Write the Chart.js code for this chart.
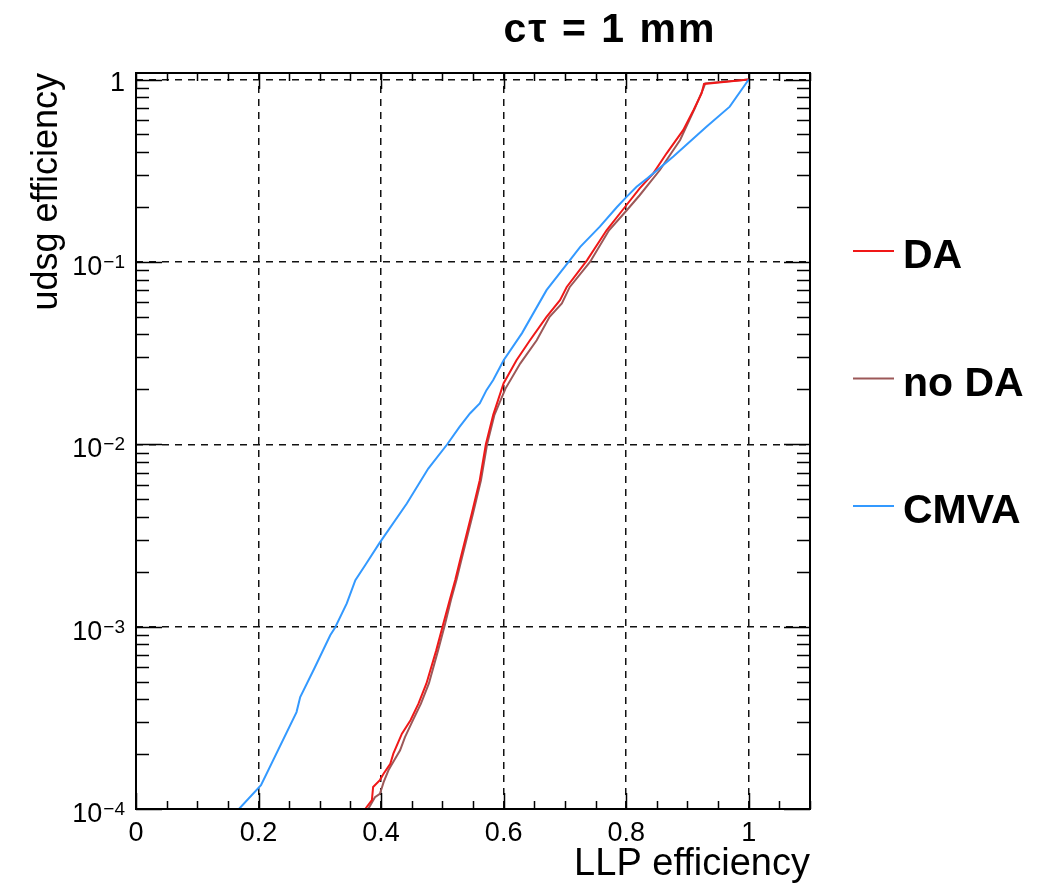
<!DOCTYPE html>
<html>
<head>
<meta charset="utf-8">
<script src="https://cdn.jsdelivr.net/npm/chart.js@4.4.1/dist/chart.umd.min.js"></script>
<style>
  html, body { margin: 0; padding: 0; background: #fff; }
  #wrap { width: 1054px; height: 889px; }
</style>
</head>
<body>
<div id="wrap"><canvas id="c" width="1054" height="889"></canvas></div>
<script>
// ROC curves for c tau = 1 mm: udsg mistag vs LLP efficiency

const xTicks = [0, 0.2, 0.4, 0.6, 0.8, 1];
const yTicks = [1, 1e-1, 1e-2, 1e-3, 1e-4];
const yTickExp = [0, -1, -2, -3, -4];

const seriesNames = ['DA', 'no DA', 'CMVA'];
const seriesColors = ['rgb(240,24,24)', 'rgb(156,88,88)', 'rgb(51,153,255)'];

const daX = [0.374, 0.385, 0.387, 0.398, 0.404, 0.415, 0.420, 0.434, 0.448, 0.461, 0.474, 0.490, 0.501, 0.512, 0.521, 0.529, 0.548, 0.561, 0.571, 0.583, 0.600, 0.621, 0.643, 0.670, 0.692, 0.703, 0.736, 0.768, 0.798, 0.822, 0.844, 0.866, 0.893, 0.910, 0.923, 0.927, 1.0];
const daY = [1.0e-4, 1.12e-4, 1.32e-4, 1.44e-4, 1.56e-4, 1.77e-4, 2.01e-4, 2.59e-4, 3.07e-4, 3.78e-4, 4.88e-4, 7.41e-4, 1.02e-3, 1.40e-3, 1.80e-3, 2.32e-3, 4.17e-3, 6.35e-3, 1.0e-2, 1.45e-2, 2.16e-2, 2.89e-2, 3.72e-2, 5.0e-2, 6.17e-2, 7.29e-2, 0.102, 0.149, 0.200, 0.253, 0.305, 0.394, 0.528, 0.681, 0.839, 0.945, 1.0];

const noDaX = [0.379, 0.390, 0.398, 0.401, 0.404, 0.412, 0.415, 0.431, 0.439, 0.452, 0.465, 0.478, 0.493, 0.504, 0.514, 0.523, 0.531, 0.550, 0.563, 0.573, 0.585, 0.603, 0.627, 0.654, 0.675, 0.695, 0.708, 0.741, 0.772, 0.801, 0.822, 0.855, 0.888, 0.912, 0.926, 0.929, 1.0];
const noDaY = [1.0e-4, 1.16e-4, 1.21e-4, 1.30e-4, 1.40e-4, 1.63e-4, 1.70e-4, 2.10e-4, 2.48e-4, 3.07e-4, 3.78e-4, 4.88e-4, 7.41e-4, 1.02e-3, 1.40e-3, 1.80e-3, 2.32e-3, 4.17e-3, 6.35e-3, 1.0e-2, 1.45e-2, 2.02e-2, 2.77e-2, 3.72e-2, 5.0e-2, 5.92e-2, 7.29e-2, 0.100, 0.149, 0.192, 0.232, 0.319, 0.466, 0.695, 0.895, 0.953, 1.0];

const cmvaX = [0.168, 0.204, 0.262, 0.268, 0.291, 0.317, 0.325, 0.344, 0.358, 0.374, 0.397, 0.442, 0.477, 0.508, 0.528, 0.545, 0.561, 0.572, 0.583, 0.600, 0.630, 0.670, 0.706, 0.725, 0.757, 0.785, 0.801, 0.817, 0.835, 0.877, 0.931, 0.969, 1.0];
const cmvaY = [1.0e-4, 1.35e-4, 3.40e-4, 4.11e-4, 5.89e-4, 8.97e-4, 9.9e-4, 1.34e-3, 1.80e-3, 2.17e-3, 2.86e-3, 4.73e-3, 7.36e-3, 1.0e-2, 1.245e-2, 1.476e-2, 1.675e-2, 1.98e-2, 2.25e-2, 2.89e-2, 4.07e-2, 7.0e-2, 0.100, 0.121, 0.156, 0.200, 0.228, 0.258, 0.288, 0.378, 0.551, 0.710, 1.0];

const FONT = '"Liberation Sans", Arial, Helvetica, sans-serif';
Chart.defaults.font.family = FONT;
Chart.defaults.color = '#000';

function pts(xs, ys) {
  return xs.map((x, i) => ({ x, y: ys[i] }));
}

// frame, inward ticks (ROOT style), y labels, title and legend
const rootDecor = {
  id: 'rootDecor',
  afterDatasetsDraw(chart) {
    const { ctx, chartArea: a, scales: { x, y } } = chart;
    ctx.save();
    ctx.strokeStyle = '#000';
    ctx.lineWidth = 1.5;
    ctx.beginPath();

    // x ticks, bottom and top
    for (let i = 0; i <= 22; i++) {
      const v = i * 0.05;
      const px = Math.round(x.getPixelForValue(v)) + 0.5;
      const len = i % 4 === 0 ? 16 : 8;
      ctx.moveTo(px, a.bottom); ctx.lineTo(px, a.bottom - len);
      ctx.moveTo(px, a.top); ctx.lineTo(px, a.top + len);
    }
    // y ticks, left and right
    for (let k = -4; k <= 0; k++) {
      for (let m = 1; m <= 9; m++) {
        const v = m * Math.pow(10, k);
        if (v > y.max) break;
        const py = Math.round(y.getPixelForValue(v)) + 0.5;
        const len = m === 1 ? 26 : 13;
        ctx.moveTo(a.left, py); ctx.lineTo(a.left + len, py);
        ctx.moveTo(a.right, py); ctx.lineTo(a.right - len, py);
      }
    }
    ctx.stroke();

    ctx.lineWidth = 2;
    ctx.strokeRect(a.left, a.top, a.right - a.left, a.bottom - a.top);

    // y tick labels 10^n
    ctx.fillStyle = '#000';
    ctx.textAlign = 'right';
    ctx.textBaseline = 'alphabetic';
    const lx = a.left - 11;
    yTicks.forEach((v, i) => {
      const py = y.getPixelForValue(v);
      const e = yTickExp[i];
      if (e === 0) {
        ctx.font = '27px ' + FONT;
        ctx.fillText('1', lx, py + 11);
        return;
      }
      const sup = '\u2212' + Math.abs(e);
      ctx.font = '19px ' + FONT;
      const w = ctx.measureText(sup).width;
      ctx.fillText(sup, lx, py + 6);
      ctx.font = '27px ' + FONT;
      ctx.fillText('10', lx - w - 1, py + 13);
    });

    // title
    ctx.textAlign = 'center';
    ctx.font = 'bold 41px ' + FONT;
    ctx.letterSpacing = '2px';
    ctx.fillText('c\u03C4 = 1 mm', 610, 42);
    ctx.letterSpacing = '0px';

    // legend
    ctx.textAlign = 'left';
    ctx.font = 'bold 41px ' + FONT;
    chart.data.datasets.forEach((ds, i) => {
      const ly = 251 + i * 127.5;
      ctx.strokeStyle = ds.borderColor;
      ctx.lineWidth = 2;
      ctx.beginPath();
      ctx.moveTo(853, ly); ctx.lineTo(894, ly);
      ctx.stroke();
      ctx.fillText(ds.label, 903, ly + 17);
    });
    ctx.restore();
  }
};

new Chart(document.getElementById('c'), {
  type: 'line',
  data: {
    datasets: [
      { label: seriesNames[0], data: pts(daX, daY), borderColor: seriesColors[0], order: 1 },
      { label: seriesNames[1], data: pts(noDaX, noDaY), borderColor: seriesColors[1], order: 2 },
      { label: seriesNames[2], data: pts(cmvaX, cmvaY), borderColor: seriesColors[2], order: 0 },
    ].map(d => Object.assign(d, { borderWidth: 2, pointRadius: 0, tension: 0, fill: false })),
  },
  plugins: [rootDecor],
  options: {
    responsive: false,
    animation: false,
    layout: { padding: { left: 0, top: 73, right: 244, bottom: 0 } },
    scales: {
      x: {
        type: 'linear',
        min: 0,
        max: 1.1,
        afterBuildTicks: axis => { axis.ticks = xTicks.map(v => ({ value: v })); },
        afterFit: axis => { axis.height = 80; },
        ticks: {
          autoSkip: false, maxRotation: 0, padding: 8,
          font: { size: 27 }, color: '#000',
          callback: v => String(v),
        },
        grid: { color: '#111', lineWidth: 1.5, drawTicks: false },
        border: { display: false, dash: [7, 6] },
        title: {
          display: true, text: 'LLP efficiency', align: 'end',
          font: { size: 38 }, color: '#000', padding: { top: 0, bottom: 2 },
        },
      },
      y: {
        type: 'logarithmic',
        min: 1e-4,
        max: 1.086,
        afterBuildTicks: axis => { axis.ticks = yTicks.map(v => ({ value: v })); },
        afterFit: axis => { axis.width = 136; },
        ticks: { display: false },
        grid: { color: '#111', lineWidth: 1.5, drawTicks: false },
        border: { display: false, dash: [7, 6] },
        title: {
          display: true, text: 'udsg efficiency', align: 'end',
          font: { size: 36 }, color: '#000', padding: { top: 25, bottom: 0 },
        },
      },
    },
    plugins: {
      legend: { display: false },
      tooltip: { enabled: false },
    },
  },
});
</script>
</body>
</html>
